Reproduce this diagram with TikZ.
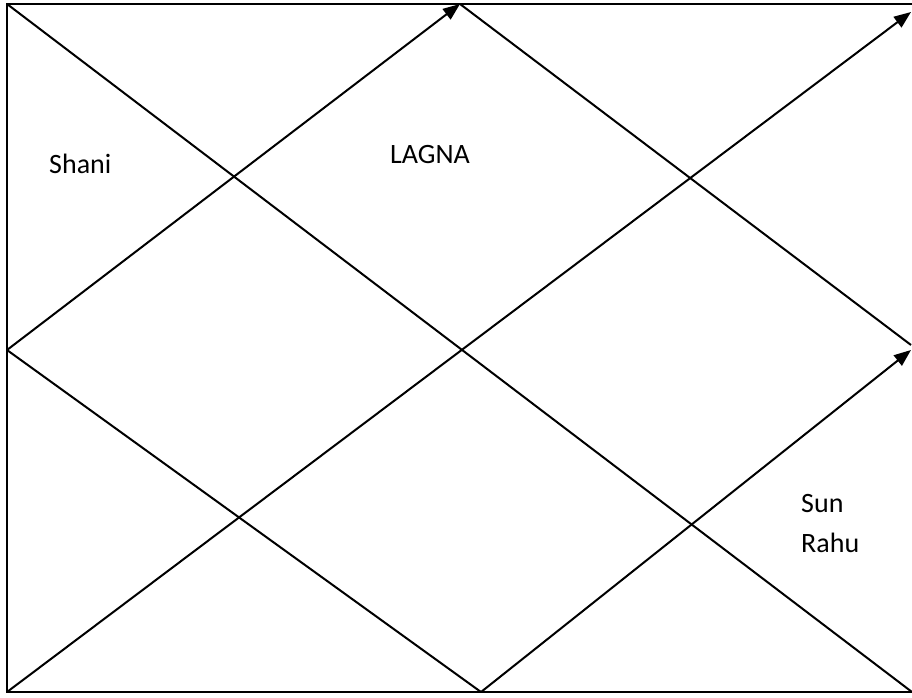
\documentclass[tikz,border=0pt]{standalone}
\usepackage{fontspec}
\setmainfont{Carlito}
\usetikzlibrary{arrows.meta}

\begin{document}
\begin{tikzpicture}[x=1pt, y=-1pt,
    chartline/.style={line width=2pt, color=black},
    arrow/.style={chartline, -{Triangle[length=17pt, width=13pt]}},
    planet/.style={anchor=base west, inner sep=0pt, font=\fontsize{28}{34}\selectfont},
]
    \useasboundingbox (0,0) rectangle (912,698);

    % corners and mid points of the chart
    \coordinate (tl) at (7,4);
    \coordinate (tr) at (912,4);
    \coordinate (bl) at (7,692);
    \coordinate (br) at (912,692);
    \coordinate (top) at (460,4);
    \coordinate (left) at (7,350);
    \coordinate (bottom) at (481,692);
    \coordinate (rtop) at (911,12);
    \coordinate (rmid) at (911,345);
    \coordinate (rarrow) at (911,350);

    % frame (no right side)
    \draw[chartline] (tr) -- (tl) -- (bl) -- (br);

    % diagonals
    \draw[chartline] (tl) -- (br);
    \draw[arrow] (bl) -- (rtop);

    % inner diamond
    \draw[arrow] (left) -- (top);
    \draw[chartline] (top) -- (rmid);
    \draw[arrow] (bottom) -- (rarrow);
    \draw[chartline] (left) -- (bottom);

    % houses
    \node[planet] (shani) at (49,173) {Shani};
    \node[planet] (lagna) at (390,163) {LAGNA};
    \node[planet] (sun) at (801,512) {Sun};
    \node[planet] (rahu) at (801,552) {Rahu};
\end{tikzpicture}
\end{document}
